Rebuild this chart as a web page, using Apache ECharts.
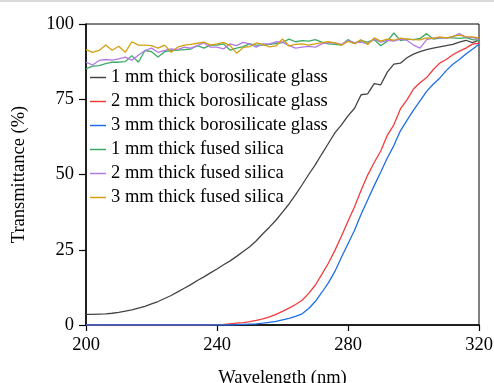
<!DOCTYPE html>
<html><head><meta charset="utf-8">
<script src="https://cdn.jsdelivr.net/npm/echarts@6/dist/echarts.min.js"></script>
<style>
html,body{margin:0;padding:0;background:#fff;}
#topline{position:absolute;left:0;top:0;width:494px;height:2px;background:#d9d9d9;z-index:5;}
#c{width:494px;height:383px;}
</style></head>
<body>
<div id="topline"></div>
<div id="c"></div>
<script>
const wavelengths = [200,202,204,206,208,210,212,214,216,218,220,222,224,226,228,230,232,234,236,238,240,242,244,246,248,250,252,254,256,258,260,262,264,266,268,270,272,274,276,278,280,282,284,286,288,290,292,294,296,298,300,302,304,306,308,310,312,314,316,318,320];
const seriesNames = ['1 mm thick borosilicate glass','2 mm thick borosilicate glass','3 mm thick borosilicate glass','1 mm thick fused silica','2 mm thick fused silica','3 mm thick fused silica'];
const boro1mm = [3.5,3.5,3.6,3.7,3.9,4.2,4.6,5.0,5.6,6.2,7.0,7.8,8.8,9.8,11.0,12.2,13.4,14.8,16.0,17.3,18.6,20.0,21.3,22.8,24.4,26.0,28.0,30.3,32.5,34.8,37.5,40.2,43.3,46.6,50.0,53.2,56.8,60.3,63.8,66.5,69.5,72.0,76.5,76.8,80.2,79.8,84.0,86.7,87.0,88.8,90.0,90.8,91.5,92.0,92.4,92.8,93.2,94.0,94.6,93.8,94.6];
const boro2mm = [0,0,0,0,0,0,0,0,0,0,0,0,0,0,0,0,0,0,0,0,0.1,0.2,0.4,0.6,0.8,1.1,1.5,2.0,2.7,3.5,4.5,5.6,6.8,8.2,10.5,13.2,16.8,20.5,24.8,29.5,34.5,39.3,44.8,49.8,54.0,57.8,63.0,66.5,71.8,74.8,78.4,80.5,82.2,84.8,87.0,88.2,89.8,91.0,92.0,93.3,93.6];
const boro3mm = [0,0,0,0,0,0,0,0,0,0,0,0,0,0,0,0,0,0,0,0,0,0,0,0.1,0.2,0.3,0.4,0.6,0.9,1.2,1.7,2.2,2.9,3.7,5.5,7.8,10.8,14.0,17.8,22.5,27.0,31.5,36.8,41.5,46.3,50.8,55.5,59.6,64.5,68.0,71.4,74.5,77.6,80.0,82.0,84.5,86.6,88.2,90.0,91.6,93.3];
const fused1mm = [85.1,86.0,86.2,86.8,87.3,87.3,87.5,89.5,87.3,91.2,90.8,89.0,90.8,91.2,91.3,91.5,91.7,92.8,92.0,93.0,93.0,93.4,91.3,92.0,92.5,93.4,93.0,93.0,93.2,93.5,93.8,95.0,94.1,94.5,94.3,94.8,94.0,93.4,93.2,93.0,94.8,93.5,94.5,94.0,94.8,92.8,94.3,97.0,94.5,95.0,94.8,95.2,96.8,95.0,95.3,95.5,95.4,95.2,95.5,94.8,94.6];
const fused2mm = [87.3,86.4,87.9,88.2,88.0,88.4,89.0,88.0,89.6,91.2,92.0,90.6,91.2,91.7,91.5,92.3,92.0,92.8,93.7,92.3,92.3,91.7,93.4,92.8,93.9,93.4,92.3,93.4,93.4,94.1,94.0,92.8,92.0,92.3,92.6,92.3,93.4,93.8,93.7,93.2,94.5,93.8,94.0,93.4,95.0,94.0,94.6,94.3,95.0,94.6,93.0,92.0,94.8,95.3,95.5,95.3,95.8,96.8,95.6,95.5,95.0];
const fused3mm = [91.5,90.6,91.2,93.0,91.3,92.6,90.6,94.1,93.0,93.0,92.8,92.0,93.0,90.6,92.3,93.0,93.2,93.6,94.0,93.0,93.4,93.9,92.8,90.3,92.2,92.5,93.7,93.2,92.4,92.7,95.0,92.7,93.2,93.4,93.0,93.4,93.8,94.1,93.7,93.0,94.2,93.5,94.8,93.2,95.4,94.3,95.0,94.6,95.3,95.0,94.8,94.7,95.4,95.2,95.7,95.4,95.9,96.3,95.8,95.7,95.4];
const xTicks = [200,240,280,320];
const yTicks = [0,25,50,75,100];

const allValues = [boro1mm,boro2mm,boro3mm,fused1mm,fused2mm,fused3mm];
const colors = ['#444444','#f23c3c','#1f6ee8','#3aaa66','#b27ae6','#d4a010'];
const font = '"Liberation Serif","DejaVu Serif",serif';

const series = allValues.map((vals,i)=>({
  name: seriesNames[i],
  type: 'line',
  data: wavelengths.map((w,j)=>[w, vals[j]]),
  showSymbol: false,
  symbol: 'none',
  lineStyle: {width: 1.3, color: colors[i]},
  itemStyle: {color: colors[i]},
  animation: false
}));

const chart = echarts.init(document.getElementById('c'), null, {renderer:'canvas'});
chart.setOption({
  backgroundColor: '#fff',
  animation: false,
  grid: {left: 86, right: 15, top: 24, bottom: 58, containLabel: false, outerBoundsMode: 'none', show: true, borderColor: '#000', borderWidth: 1, backgroundColor: 'transparent'},
  legend: {
    data: seriesNames,
    orient: 'vertical',
    left: 90,
    top: 68,
    padding: 0,
    icon: 'rect',
    itemWidth: 16,
    itemHeight: 1.5,
    itemGap: 5,
    textStyle: {fontFamily: font, fontSize: 18.5, color: '#000'}
  },
  xAxis: {
    type: 'value', min: xTicks[0], max: xTicks[xTicks.length-1], interval: 40,
    name: 'Wavelength (nm)', nameLocation: 'middle', nameGap: 44,
    nameTextStyle: {fontFamily: font, fontSize: 18.5, color: '#000'},
    axisLine: {show: true, lineStyle: {color: '#000', width: 1.5}},
    axisTick: {show: true, inside: false, length: 6, lineStyle: {color: '#000', width: 1.2}},
    axisLabel: {fontFamily: font, fontSize: 18.5, color: '#000', margin: 11},
    splitLine: {show: false}
  },
  yAxis: {
    type: 'value', min: yTicks[0], max: yTicks[yTicks.length-1], interval: 25,
    name: 'Transmittance (%)', nameLocation: 'middle', nameGap: 57,
    nameTextStyle: {fontFamily: font, fontSize: 18.5, color: '#000'},
    axisLine: {show: true, lineStyle: {color: '#000', width: 1.5}},
    axisTick: {show: true, inside: false, length: 7, lineStyle: {color: '#000', width: 1.2}},
    axisLabel: {fontFamily: font, fontSize: 18.5, color: '#000', margin: 12},
    splitLine: {show: false}
  },
  series: series
});
</script>
</body></html>
